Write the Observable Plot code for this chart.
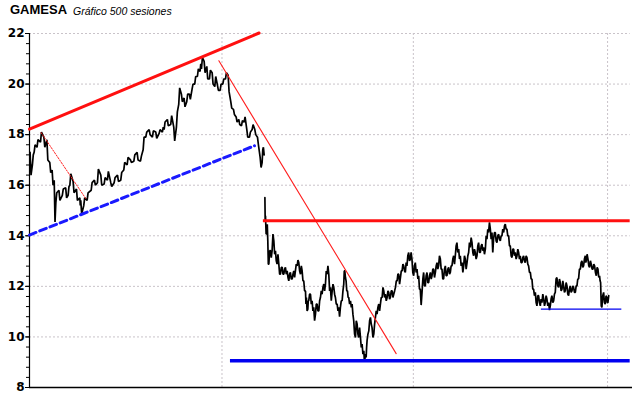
<!DOCTYPE html>
<html><head><meta charset="utf-8">
<script src="https://cdn.jsdelivr.net/npm/d3@7"></script>
<script src="https://cdn.jsdelivr.net/npm/@observablehq/plot@0.6"></script>
<style>
body{margin:0;background:#fff}
#wrap{position:relative;width:640px;height:398px;overflow:hidden}
#t1{position:absolute;left:10px;top:2px;font:bold 13px "Liberation Sans",Arial,sans-serif;color:#000;white-space:nowrap}
#t2{position:absolute;left:73px;top:5px;font:italic 10.5px "Liberation Sans",Arial,sans-serif;color:#000;white-space:nowrap}
#wrap svg{position:absolute;left:0;top:0}
</style></head><body>
<div id="wrap"><div id="t1">GAMESA</div><div id="t2">Gráfico 500 sesiones</div></div>
<script>
// ---- price bars (session index, high, low) ----
const sessions = [
0.5,2.5,4,6.5,9.5,12.4,15,17.5,19.5,21.3,22.7,25.4,28.3,31.2,33.3,34.8,37.6,40.5,43.4,44.2,
46.8,49.7,53.2,56,58.6,61.5,64.4,67.2,70.1,73,75.9,78.7,81.3,84.2,87.1,90,92.8,95.7,98,100.3,
103.2,106,108.9,111.8,114.6,116.1,118.9,121.8,124.4,126.7,128.7,131,133.3,135.6,137.9,140.2,142.5,144.8,147.1,148.3,
150.6,152.9,155.2,157.5,159.8,162.1,164.4,166.7,169,171.3,173.6,175.9,178.2,180.5,182.8,185.1,187.4,189.7,192,194.3,
196.6,198.9,200.6,201.7,
203.0,203.5,204.6,205.5,206.4,207.8,209.2,210.7,212.1,213.5,215.0,216.4,217.9,219.3,220.7,222.2,223.6,225.0,226.5,227.9,
229.3,230.8,232.2,233.7,235.1,236.5,238.0,238.8,240.0,240.8,242.3,243.7,245.1,246.6,248.0,249.5,250.9,252.3,253.8,255.2,
256.6,258.1,259.5,261.0,262.4,263.8,265.3,266.7,268.1,269.6,271.0,271.9,273.0,274.2,275.3,276.8,278.2,279.6,281.1,282.5,
283.9,285.4,286.8,288.3,289.1,290.3,291.1,292.6,294.0,295.4,296.9,298.3,299.7,301.2,302.6,304.1,305.5,306.9,308.4,309.8,
311.2,312.7,314.1,315.6,317.0,318.4,319.9,321.3,322.7,
324.1,325.5,327.0,328.4,329.8,331.3,332.7,334.2,335.6,337.0,338.5,339.9,341.3,342.8,344.2,345.7,347.1,348.5,350.0,351.4,
352.8,354.3,355.7,357.1,358.6,360.0,361.5,362.9,364.3,365.8,367.2,368.6,370.1,371.5,373.0,374.4,375.8,377.3,378.7,380.1,
381.6,383.0,384.4,385.9,387.3,388.8,390.2,391.6,393.1,394.5,395.9,397.4,398.8,400.2,401.7,403.1,404.6,406.0,407.4,408.9,
410.3,411.7,413.2,414.6,416.1,417.5,418.9,420.4,421.8,423.2,424.7,426.1,427.5,429.0,430.4,431.9,433.3,434.7,436.2,437.6,
439.0,440.5,441.9,443.4,444.8,446.2,447.7,449.1,450.5,452.0,453.4,454.8,456.3,457.7,459.2,460.6,462.0,463.5,464.9,466.3,
467.8,469.2,470.7,472.1,473.5,475.0,476.4,477.8,479.3,480.1,481.6,483.0,484.4,485.9,487.3,488.8,490.2,491.6,492.5,493.6,
495.1,496.5,497.9,498.8
];
const highs = [
17.3,17.2,17.6,17.8,18.1,17.9,17.8,16.9,16.6,16.2,15.7,15.8,15.85,15.9,15.95,16.45,16.15,15.85,15.5,15.4,
15.5,15.7,16.1,16.2,16.64,16.4,16.3,16.55,16.1,16.3,16.4,16.5,16.9,17.1,17.0,17.2,17.3,17.15,17.9,18.1,
18.2,18.15,18.1,18.2,18.3,18.5,18.6,18.75,18.3,18.9,19.85,19.6,19.45,19.6,19.6,20.0,20.3,20.6,20.8,21.05,
20.9,20.7,20.55,20.45,20.3,19.95,20.0,20.2,20.45,20.35,19.3,19.0,18.7,18.6,18.55,18.7,18.2,18.1,18.4,18.2,
17.9,17.1,17.4,17.5,
15.51,14.79,14.46,13.80,13.41,13.41,14.07,13.80,13.41,13.27,12.88,12.75,12.75,12.68,12.75,12.61,12.48,12.55,12.48,12.61,
12.88,13.04,12.94,12.81,12.61,12.22,11.82,11.56,11.43,11.69,11.69,11.43,11.17,11.30,11.30,11.43,11.82,11.96,12.09,12.61,
12.81,12.48,11.96,12.09,11.96,11.56,11.30,11.17,11.43,11.82,12.61,12.61,12.22,11.82,11.56,11.43,11.30,10.64,10.64,10.51,
10.37,9.98,9.72,9.45,9.32,9.58,10.11,10.64,10.77,10.37,10.51,11.03,11.17,11.30,11.56,11.96,11.82,11.69,11.82,11.76,
11.82,11.82,11.82,12.22,12.48,12.48,12.61,12.88,12.81,
12.94,13.21,13.34,13.34,13.08,12.81,12.94,12.68,12.42,11.89,12.29,12.55,12.42,12.55,12.42,12.55,12.68,12.68,12.81,12.94,
13.21,13.08,12.68,12.68,12.81,12.68,12.75,12.81,13.08,13.21,13.60,13.73,13.47,13.21,12.94,13.21,13.08,13.21,13.73,13.93,
13.73,13.47,13.34,13.60,13.73,13.60,13.67,13.54,14.00,14.26,14.53,14.26,14.13,14.13,14.13,14.00,14.06,14.00,14.26,14.39,
14.46,14.26,14.00,13.60,13.47,13.47,13.34,13.47,13.34,13.21,13.14,13.21,13.21,13.14,12.81,12.55,12.29,11.89,11.76,11.63,
11.63,11.50,11.69,11.50,11.63,11.50,11.36,11.50,11.63,11.69,12.29,12.35,12.29,12.15,12.22,12.02,12.15,12.02,11.89,12.02,
12.02,11.96,12.02,12.29,12.68,12.94,13.01,13.08,13.21,13.27,13.08,13.01,12.88,12.88,12.81,12.75,12.68,12.42,12.15,11.63,
11.76,11.63,11.56,11.63
];
const lows = [
16.4,16.8,17.3,17.5,17.7,17.5,17.0,16.5,16.0,14.55,15.3,15.4,15.6,15.5,15.6,16.0,15.7,15.4,15.2,14.86,
15.2,15.4,15.8,16.0,16.1,16.0,16.05,16.2,15.95,16.1,16.15,16.2,16.6,16.8,16.9,16.95,17.0,16.95,17.4,17.9,
18.0,17.9,17.85,18.05,18.1,18.2,18.35,18.4,17.75,18.3,19.2,19.3,19.1,19.3,19.4,19.8,20.0,20.3,20.5,20.6,
20.45,20.2,20.2,20.0,19.9,19.75,19.75,20.0,20.2,19.7,19.05,18.8,18.5,18.4,18.35,18.5,17.9,17.9,18.2,18.0,
17.6,16.7,16.9,17.2,
14.59,14.07,14.07,12.88,12.88,13.14,13.41,13.27,13.01,12.88,12.48,12.48,12.48,12.48,12.48,12.35,12.22,12.29,12.29,12.35,
12.61,12.81,12.61,12.48,12.22,11.82,11.30,11.03,11.10,11.43,11.30,11.03,10.64,10.90,11.03,11.03,11.56,11.69,11.82,12.09,
12.48,11.82,11.43,11.82,11.69,11.30,11.03,10.80,11.17,11.43,12.09,12.35,11.82,11.56,11.30,11.17,10.90,10.11,9.98,10.11,
9.98,9.58,9.32,9.12,9.06,9.19,9.85,10.24,10.51,9.98,10.11,10.77,10.90,11.03,11.30,11.56,11.56,11.43,11.56,11.49,
11.56,11.56,11.69,11.96,12.22,12.09,12.35,12.61,12.61,
12.55,12.81,13.01,13.08,12.55,12.42,12.55,12.29,11.89,11.26,11.76,12.02,12.02,12.15,12.15,12.29,12.42,12.35,12.55,12.68,
12.81,12.68,12.29,12.29,12.42,12.42,12.48,12.55,12.81,12.88,13.21,13.34,13.08,12.81,12.55,12.81,12.68,12.94,13.34,13.54,
13.34,13.21,13.08,13.21,13.34,13.34,13.41,13.27,13.47,13.87,14.13,13.87,13.34,13.87,13.80,13.73,13.87,13.80,14.00,14.13,
14.26,14.00,13.60,13.21,13.14,13.21,13.08,13.21,13.08,12.94,12.94,13.01,12.94,12.88,12.55,12.29,11.89,11.63,11.36,11.23,
11.36,11.23,11.36,11.23,11.36,11.23,11.06,11.23,11.36,11.43,11.76,12.02,11.96,11.82,11.89,11.76,11.82,11.69,11.63,11.76,
11.82,11.76,11.76,12.02,12.29,12.68,12.75,12.81,12.94,13.01,12.81,12.75,12.68,12.68,12.55,12.42,12.35,12.22,11.23,11.17,
11.36,11.30,11.36,11.36
];
const gapSession = 202.3;

// ---- axes / grid values ----
const majorTicks = [8, 10, 12, 14, 16, 18, 20, 22];
const minorTicks = d3.range(8, 22.001, 0.4);
const gridLevels = [10, 12, 14, 16, 18, 20, 22];
const gridSessions = [166, 331, 498.5];

// ---- drawn trend lines (session, price) ----
const upperChannel = [[0, 18.22], [198, 22.02]];
const lowerChannel = [[0, 14.03], [194, 17.56]];
const shortDownTrend = [[10, 18.08], [49, 15.44]];
const longDownTrend = [[163.3, 20.92], [316.2, 9.34]];
const resistance = {level: 14.59, from: 201.7, to: 518};
const support = {level: 9.06, from: 173.3, to: 518};
const recentSupport = {level: 11.10, from: 441.4, to: 510.8};

// zigzag path through the daily high/low bars
const pts = [];
let prev = null;
for (let k = 0; k < sessions.length; k++) {
  const s = sessions[k], h = highs[k], l = lows[k];
  const seg = s < gapSession ? 0 : 1;
  if (k > 0 && seg === 1 && sessions[k - 1] < gapSession) prev = null;
  const nxt = k + 1 < sessions.length ? sessions[k + 1] : s + 1.4;
  const half = Math.min((nxt - s) / 2, 0.8);
  const hiFirst = prev === null ? true : Math.abs(h - prev) <= Math.abs(l - prev);
  const a = hiFirst ? h : l, b = hiFirst ? l : h;
  pts.push({x: s, y: a, seg}, {x: s + half, y: b, seg});
  prev = b;
}
const seg2 = (arr) => arr.map(([x, y]) => ({x, y}));
const gridStroke = "#c9c3c9";

const chart = Plot.plot({
  width: 640, height: 398,
  marginLeft: 29, marginRight: 8, marginTop: 33, marginBottom: 11,
  x: {domain: [0, 520], axis: null},
  y: {domain: [8, 22], axis: null},
  style: {background: "transparent", overflow: "visible"},
  marks: [
    Plot.ruleY(gridLevels, {x1: 0, x2: 518, stroke: gridStroke, strokeDasharray: "2,2"}),
    Plot.ruleX(gridSessions, {y1: 8, y2: 22, stroke: gridStroke, strokeDasharray: "2,2"}),
    Plot.axisY({ticks: minorTicks, tickSize: 3, tickFormat: () => "", label: null, stroke: "#000"}),
    Plot.axisY({ticks: majorTicks, tickSize: 4, tickPadding: 1, label: null, fontSize: 12, fontWeight: "bold",
      fontFamily: "DejaVu Sans", fill: "#000", stroke: "#000"}),
    Plot.ruleX([0], {y1: 8, y2: 22, stroke: "#000", strokeWidth: 1.2}),
    Plot.ruleY([8], {x1: 0, x2: 520, stroke: "#000", strokeWidth: 1.5}),
    Plot.line(pts, {x: "x", y: "y", z: "seg", stroke: "#000", strokeWidth: 1.7, strokeLinejoin: "miter"}),
    Plot.line(seg2(upperChannel), {x: "x", y: "y", stroke: "#ff1010", strokeWidth: 3}),
    Plot.line(seg2(lowerChannel), {x: "x", y: "y", stroke: "#1a1aff", strokeWidth: 3, strokeDasharray: "7,4"}),
    Plot.line(seg2(shortDownTrend), {x: "x", y: "y", stroke: "#ff2020", strokeWidth: 1, strokeDasharray: "1.5,1.5"}),
    Plot.line(seg2(longDownTrend), {x: "x", y: "y", stroke: "#ff2020", strokeWidth: 1.1}),
    Plot.ruleY([resistance], {y: "level", x1: "from", x2: "to", stroke: "#ff1010", strokeWidth: 3}),
    Plot.ruleY([support], {y: "level", x1: "from", x2: "to", stroke: "#0000f0", strokeWidth: 3.5}),
    Plot.ruleY([recentSupport], {y: "level", x1: "from", x2: "to", stroke: "#0000f0", strokeWidth: 1.2})
  ]
});
document.getElementById("wrap").prepend(chart);
</script>
</body></html>
